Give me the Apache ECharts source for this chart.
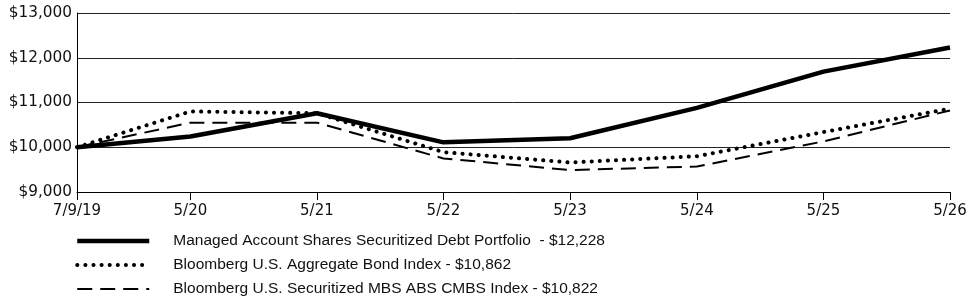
<!DOCTYPE html>
<html>
<head>
<meta charset="utf-8">
<script src="https://cdn.jsdelivr.net/npm/echarts@6/dist/echarts.min.js"></script>
<style>
  html, body { margin: 0; padding: 0; background: #fff; }
  #chart { width: 975px; height: 304px; }
</style>
</head>
<body>
<div id="chart"></div>
<script>
  // period end dates and the labels printed under the ticks
  const dates = ['2019-07-09', '2020-05-31', '2021-05-31', '2022-05-31', '2023-05-31', '2024-05-31', '2025-05-31', '2026-05-31'];
  const tickLabels = ['7/9/19', '5/20', '5/21', '5/22', '5/23', '5/24', '5/25', '5/26'];

  const fundName = 'Managed Account Shares Securitized Debt Portfolio  - $12,228';
  const aggName = 'Bloomberg U.S. Aggregate Bond Index - $10,862';
  const mbsName = 'Bloomberg U.S. Securitized MBS ABS CMBS Index - $10,822';

  const fundValues = [10000, 10240, 10760, 10110, 10200, 10880, 11690, 12228];
  const aggValues = [10000, 10800, 10760, 9890, 9660, 9800, 10340, 10862];
  const mbsValues = [10000, 10550, 10550, 9750, 9490, 9570, 10130, 10822];

  const yTicks = [9000, 10000, 11000, 12000, 13000];

  let chart = echarts.init(document.getElementById('chart'));

  // x as days since the first date, so the short first period keeps its real width
  const t0 = new Date(dates[0] + 'T00:00:00Z').getTime();
  const days = dates.map(d => Math.round((new Date(d + 'T00:00:00Z').getTime() - t0) / 86400000));
  const pairs = vals => vals.map((v, i) => [days[i], v]);

  let option = {
    animation: false,
    grid: {
      left: 77,
      right: 25,
      top: 13,
      bottom: 112
    },
    legend: {
      orient: 'vertical',
      left: 75,
      top: 233,
      height: 90,
      padding: 0,
      itemWidth: 72,
      itemHeight: 14,
      itemGap: 8,
      itemStyle: {opacity: 0},
      textStyle: {
        fontFamily: 'Liberation Sans',
        fontSize: 15.5,
        color: '#111',
        padding: [0, 0, 0, 19]
      },
      data: [
        {name: fundName, lineStyle: {width: 4.5}},
        {name: aggName, lineStyle: {width: 4}},
        {name: mbsName, lineStyle: {width: 2}}
      ]
    },
    xAxis: {
      type: 'value',
      min: days[0],
      max: days[days.length - 1],
      axisLine: {lineStyle: {color: '#000', width: 1}},
      axisTick: {
        show: true,
        length: 8,
        lineStyle: {color: '#000'},
        customValues: days
      },
      axisLabel: {
        customValues: days,
        margin: 12,
        fontFamily: 'DejaVu Sans',
        fontSize: 15,
        color: '#111',
        formatter: function (value) {
          let i = days.indexOf(value);
          return i >= 0 ? tickLabels[i] : '';
        }
      },
      splitLine: {show: false}
    },
    yAxis: {
      type: 'value',
      min: yTicks[0],
      max: yTicks[yTicks.length - 1],
      interval: 1000,
      axisLine: {show: true, lineStyle: {color: '#000', width: 1}},
      axisTick: {show: false},
      axisLabel: {
        margin: 5,
        fontFamily: 'DejaVu Sans',
        fontSize: 15.3,
        color: '#111',
        formatter: function (v) {
          return '$' + v.toLocaleString('en-US');
        }
      },
      splitLine: {show: true, lineStyle: {color: '#222', width: 1}}
    },
    series: [
      {
        name: fundName,
        type: 'line',
        data: pairs(fundValues),
        symbol: 'none',
        z: 5,
        lineStyle: {color: '#000', width: 4.5, join: 'round'}
      },
      {
        name: aggName,
        type: 'line',
        data: pairs(aggValues),
        symbol: 'none',
        z: 4,
        lineStyle: {color: '#000', width: 4, type: [0.1, 8], cap: 'round'}
      },
      {
        name: mbsName,
        type: 'line',
        data: pairs(mbsValues),
        symbol: 'none',
        z: 3,
        lineStyle: {color: '#000', width: 2, type: [15, 8]}
      }
    ]
  };

  chart.setOption(option);
</script>
</body>
</html>
